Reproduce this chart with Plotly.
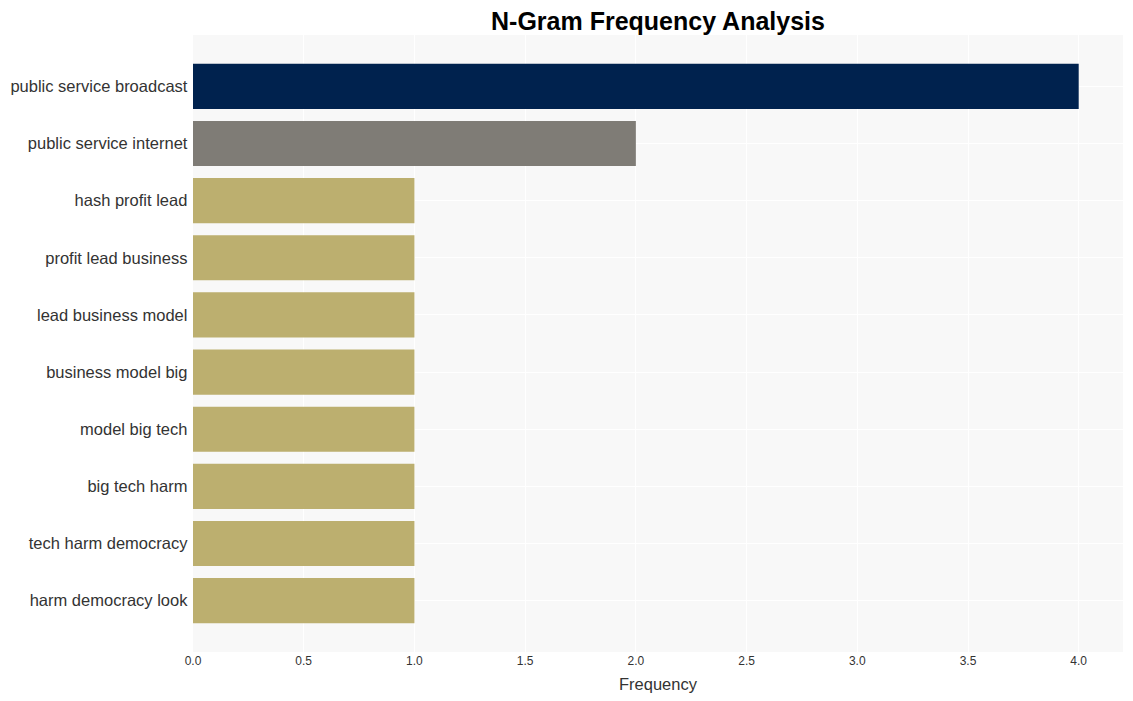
import plotly.graph_objects as go

categories = ["public service broadcast", "public service internet", "hash profit lead",
              "profit lead business", "lead business model", "business model big",
              "model big tech", "big tech harm", "tech harm democracy", "harm democracy look"]
values = [4, 2, 1, 1, 1, 1, 1, 1, 1, 1]
colors = ["#00224e", "#7f7c76"] + ["#bcaf6f"] * 8

fig = go.Figure(go.Bar(
    x=values, y=categories, orientation="h",
    marker=dict(color=colors, line=dict(width=0)),
))
fig.update_layout(
    width=1133, height=701,
    margin=dict(l=185, r=18, t=27, b=57),
    paper_bgcolor="white", plot_bgcolor="#f8f8f8",
    font=dict(family="Liberation Sans, Arial, sans-serif", color="#333"),
    title=dict(text="<b>N-Gram Frequency Analysis</b>", x=0.5, xref="paper",
               y=0.994, yanchor="top", font=dict(size=25, color="black")),
    bargap=0.21,
    xaxis=dict(title=dict(text="Frequency", font=dict(size=16.5), standoff=11),
               range=[0, 4.2], dtick=0.5, tickformat=".1f",
               gridcolor="white", gridwidth=1, zeroline=False,
               tickfont=dict(size=12), showline=False, automargin=False),
    yaxis=dict(range=[len(categories) - 0.1, -0.9], tickfont=dict(size=16.5),
               gridcolor="white", ticksuffix=" ", showline=False, automargin=False),
    showlegend=False,
)
fig.write_html("out.html")
